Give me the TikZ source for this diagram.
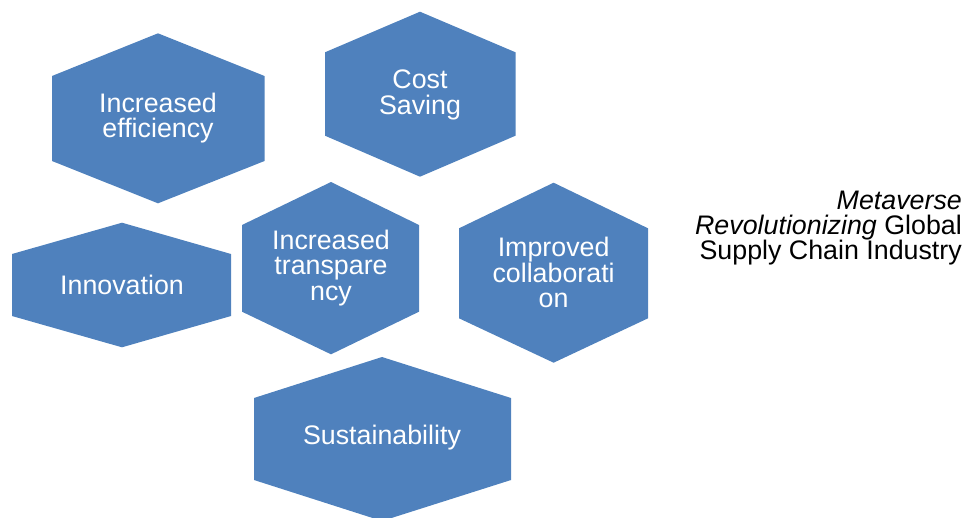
\documentclass[tikz,border=0pt]{standalone}
\usepackage{fontspec}
\setmainfont{Liberation Sans}
\begin{document}
\begin{tikzpicture}[x=1pt,y=-1pt,
  hexfill/.style={fill=hexblue},
  hexlabel/.style={text=white,align=center,inner sep=0pt,
    font=\fontsize{26.8}{25.5}\selectfont},
  sidelabel/.style={text=black,align=right,inner sep=0pt,
    font=\fontsize{26.8}{25}\selectfont}]
\definecolor{hexblue}{RGB}{79,129,189}
\useasboundingbox (0,0) rectangle (965,517);
\clip (0,0) rectangle (965,517);
% hexagon: centre x, left, right, top, upper shoulder, lower shoulder, bottom
\newcommand{\hexcell}[7]{%
  \fill[hexfill] (#1,#4) -- (#3,#5) -- (#3,#6) -- (#1,#7) -- (#2,#6) -- (#2,#5) -- cycle;}
\hexcell{158}{52}{264.5}{33.3}{76}{161}{203.3}
\hexcell{420}{325}{515.5}{11.7}{52.3}{135.7}{176.7}
\hexcell{122}{12}{231}{222.7}{254}{316}{347.3}
\hexcell{331}{242}{419}{182}{225}{311.7}{354.3}
\hexcell{553.6}{459}{648}{182.7}{228.3}{318.3}{362.7}
\hexcell{382}{254}{511}{357}{398}{480}{521}
% labels
\node[hexlabel] (eff) at (158,118) {Increased\\efficiency};
\node[hexlabel] (cost) at (420,95) {Cost\\Saving};
\node[hexlabel] (innov) at (122,285) {Innovation};
\node[hexlabel] (transp) at (331,268) {Increased\\transpare\\ncy};
\node[hexlabel] (collab) at (553.6,272.5) {Improved\\collaborati\\on};
\node[hexlabel] (sust) at (382,438) {Sustainability};
\node[sidelabel,anchor=east] (title) at (962,228.5) {\textit{Metaverse}\\\textit{Revolutionizing} Global\\Supply Chain Industry};
\end{tikzpicture}
\end{document}
